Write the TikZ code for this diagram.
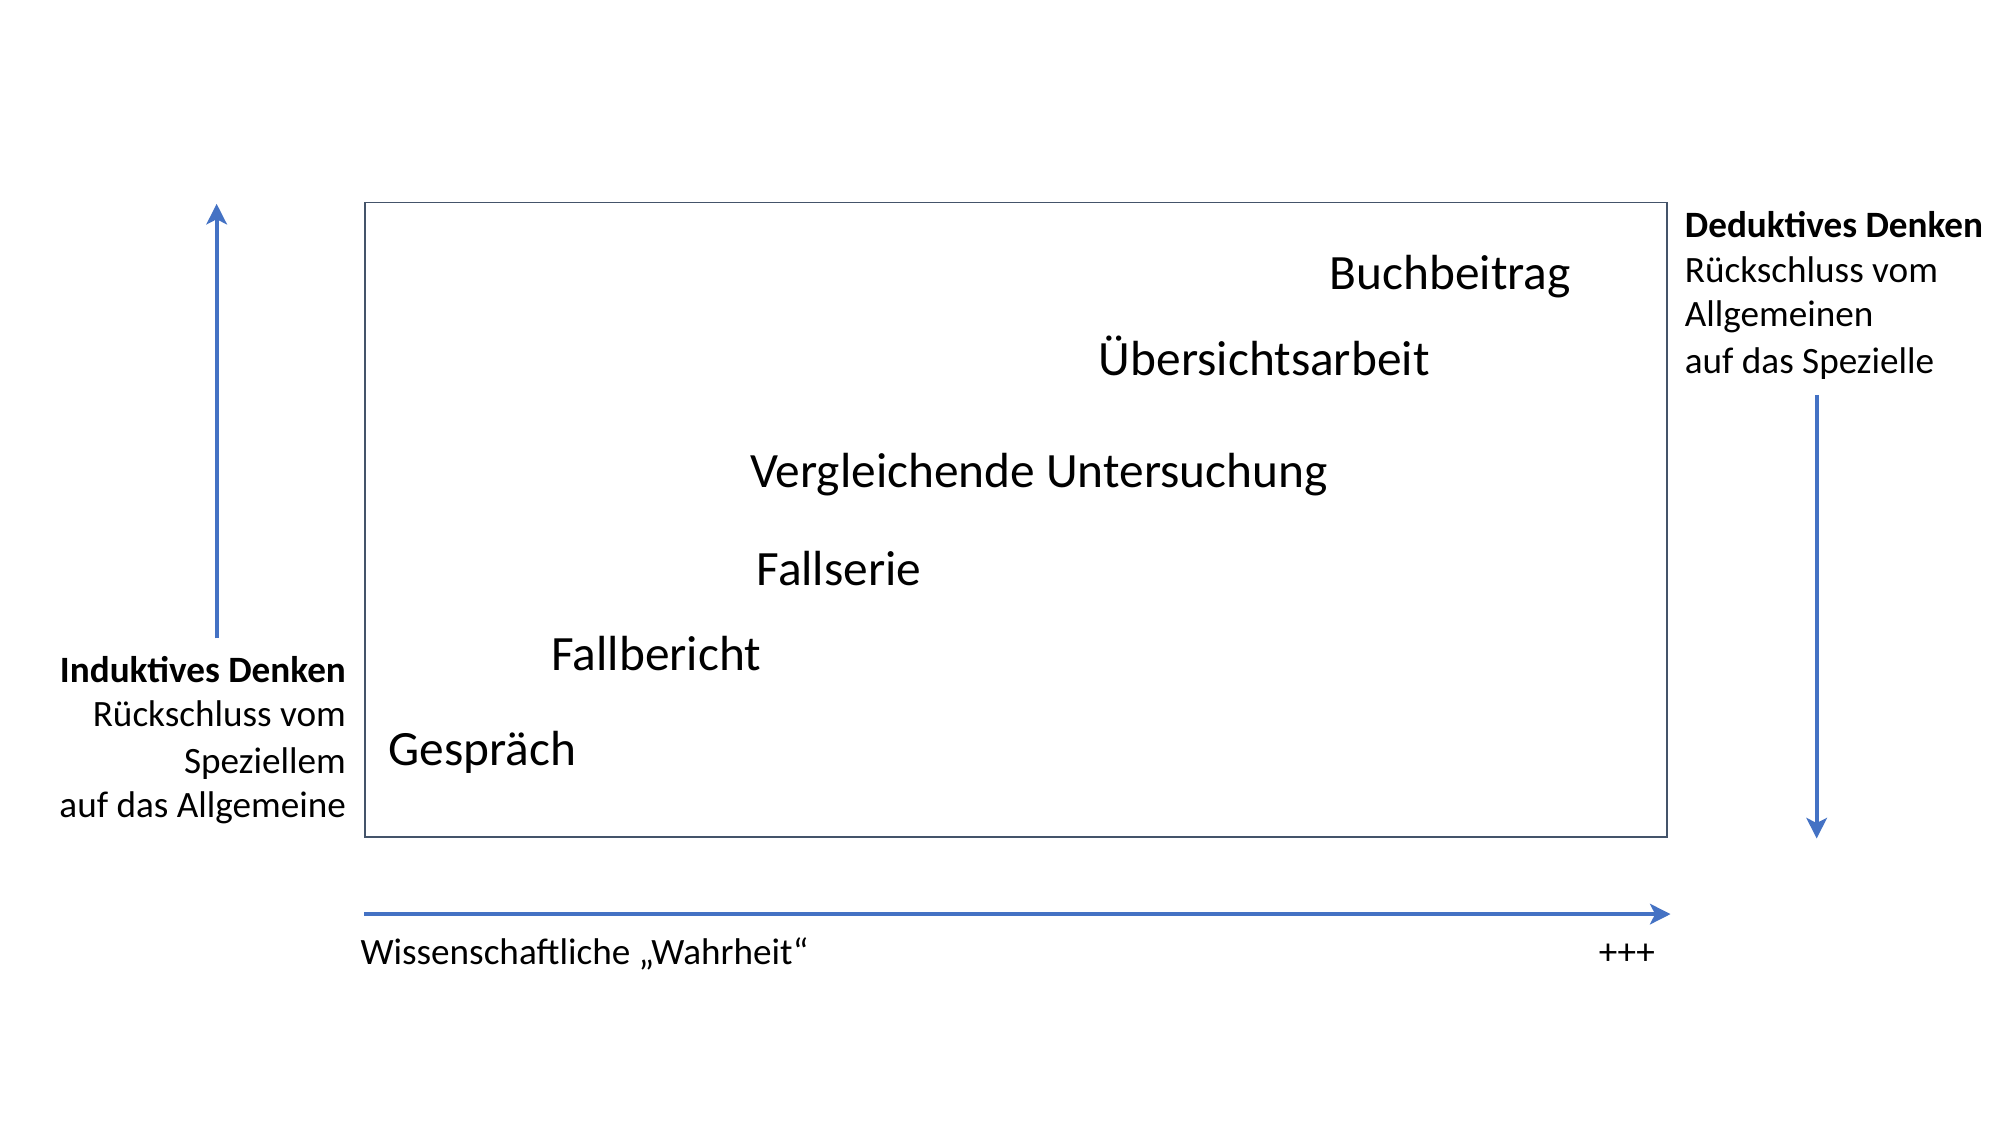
\documentclass[tikz,border=0pt]{standalone}
\usepackage{fontspec}
\setmainfont{Carlito}
\usetikzlibrary{arrows.meta}
\definecolor{arrowblue}{HTML}{4472C4}
\definecolor{boxgray}{HTML}{44546A}
\tikzset{
  bigarrow/.style={draw=arrowblue, line width=3pt, -{Stealth[length=16pt, width=16pt, inset=4pt]}},
  frame/.style={draw=boxgray, line width=1.4pt},
  biglabel/.style={font=\fontsize{38.5}{46}\selectfont, inner sep=0pt, anchor=base west},
  sidelabel/.style={font=\fontsize{29}{35}\selectfont, inner sep=0pt},
}
\begin{document}
\begin{tikzpicture}[x=1pt, y=-1pt]
\useasboundingbox (0,0) rectangle (1560,877.5);
\fill[white] (0,0) rectangle (1560,877.5);
% frame
\draw[frame] (285,158) rectangle (1300,653);
% labels inside
\node[biglabel] (buch) at (1037,226) {Buchbeitrag};
\node[biglabel] (ueber) at (857,293) {Übersichtsarbeit};
\node[biglabel] (vergl) at (585,380) {Vergleichende Untersuchung};
\node[biglabel] (fallserie) at (590,457) {Fallserie};
\node[biglabel] (fallbericht) at (430,523) {Fallbericht};
\node[biglabel] (gespraech) at (303,597) {Gespräch};
% left text
\node[sidelabel, anchor=base east, font=\fontsize{29}{35}\selectfont\bfseries] (ind1) at (270,532) {Induktives Denken};
\node[sidelabel, anchor=base east] (ind2) at (270,567) {Rückschluss vom};
\node[sidelabel, anchor=base east] (ind3) at (270,603) {Speziellem};
\node[sidelabel, anchor=base east] (ind4) at (270,638) {auf das Allgemeine};
% right text
\node[sidelabel, anchor=base west, font=\fontsize{29}{35}\selectfont\bfseries] (ded1) at (1314,185) {Deduktives Denken};
\node[sidelabel, anchor=base west] (ded2) at (1314,220) {Rückschluss vom};
\node[sidelabel, anchor=base west] (ded3) at (1314,255) {Allgemeinen};
\node[sidelabel, anchor=base west] (ded4) at (1314,291) {auf das Spezielle};
% bottom text
\node[sidelabel, anchor=base west] (wahr) at (281,752) {Wissenschaftliche „Wahrheit“};
\node[sidelabel, anchor=base east] (plus) at (1291,752) {+++};
% arrows
\coordinate (lstart) at (169,498);
\coordinate (lend) at (169,159);
\draw[bigarrow] (lstart) -- (lend);
\coordinate (rstart) at (1417,308);
\coordinate (rend) at (1417,654);
\draw[bigarrow] (rstart) -- (rend);
\coordinate (bstart) at (284,713);
\coordinate (bend) at (1303,713);
\draw[bigarrow] (bstart) -- (bend);
\end{tikzpicture}
\end{document}
